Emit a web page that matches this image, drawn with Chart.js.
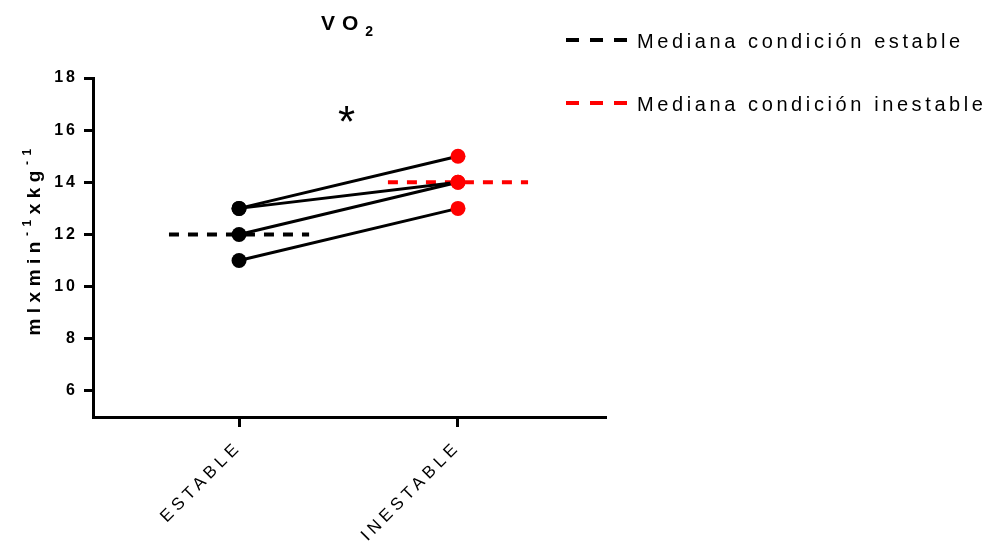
<!DOCTYPE html>
<html>
<head>
<meta charset="utf-8">
<script src="https://cdn.jsdelivr.net/npm/chart.js@4.4.1/dist/chart.umd.min.js"></script>
<style>
    html, body { margin: 0; padding: 0; background: #fff; }
</style>
</head>
<body>
<canvas id="vo2Chart" width="989" height="550"></canvas>
<script>
const categories = ['ESTABLE', 'INESTABLE'];
const estable = [13, 13, 12, 11];
const inestable = [15, 14, 14, 13];
const medianas = [12, 14];
const medianLabels = ['Mediana condición estable', 'Mediana condición inestable'];
const medianColors = ['#000000', '#ff0000'];
const yTicks = [6, 8, 10, 12, 14, 16, 18];
const sigMark = { text: '*', x: 1.5, y: 16.6 };

const FONT = "'Liberation Sans', Arial, sans-serif";
const medianHalf = 0.32;

// one line per subject, estable -> inestable
const subjectLines = estable.map((v, i) => ({
    label: 'sujeto ' + (i + 1),
    data: [{ x: 1, y: v }, { x: 2, y: inestable[i] }],
    showLine: true,
    borderColor: '#000',
    borderWidth: 3,
    pointRadius: 0,
    order: 2
}));

const medianLines = medianas.map((m, i) => ({
    label: medianLabels[i],
    data: [{ x: i + 1 - medianHalf, y: m }, { x: i + 1 + medianHalf, y: m }],
    showLine: true,
    borderColor: medianColors[i],
    borderWidth: 4,
    borderDash: [10, 9],
    pointRadius: 0,
    order: 3
}));

const points = {
    label: 'puntos',
    data: estable.map(v => ({ x: 1, y: v })).concat(inestable.map(v => ({ x: 2, y: v }))),
    pointBackgroundColor: estable.map(() => medianColors[0]).concat(inestable.map(() => medianColors[1])),
    pointBorderWidth: 0,
    pointRadius: 7.5,
    order: 1
};

// letter spacing for the tick labels (Prism style)
const spacingPlugin = {
    id: 'spacing',
    beforeDraw(chart) {
        Object.values(chart.scales).forEach(s => {
            if (s._spaced) return;
            const orig = s.drawLabels.bind(s);
            const ls = s.axis === 'x' ? '4.5px' : '3px';
            s.drawLabels = area => {
                chart.ctx.letterSpacing = ls;
                orig(area);
                chart.ctx.letterSpacing = '0px';
            };
            s._spaced = true;
        });
    }
};

function drawParts(ctx, parts, spacing) {
    // parts: [{text, font, dy}] drawn left to right from current origin
    let x = 0;
    ctx.letterSpacing = spacing;
    parts.forEach(p => {
        ctx.font = p.font;
        ctx.fillText(p.text, x, p.dy);
        x += ctx.measureText(p.text).width;
    });
    return x;
}

function partsWidth(ctx, parts, spacing) {
    let w = 0;
    ctx.letterSpacing = spacing;
    parts.forEach(p => {
        ctx.font = p.font;
        w += ctx.measureText(p.text).width;
    });
    return w;
}

const textPlugin = {
    id: 'texts',
    afterDraw(chart) {
        const ctx = chart.ctx;
        const area = chart.chartArea;
        ctx.save();
        ctx.fillStyle = '#000';
        ctx.textAlign = 'left';
        ctx.textBaseline = 'alphabetic';

        // title VO2
        const title = [
            { text: 'VO', font: 'bold 21px ' + FONT, dy: 0 },
            { text: '2', font: 'bold 14px ' + FONT, dy: 6 }
        ];
        const tw = partsWidth(ctx, title, '7px');
        ctx.save();
        ctx.translate((area.left + area.right) / 2 - tw / 2 + 1, 30);
        drawParts(ctx, title, '7px');
        ctx.restore();

        // y axis title with superscripts
        const ytitle = [
            { text: 'mlxmin', font: 'bold 19px ' + FONT, dy: 0 },
            { text: '-1', font: 'bold 12px ' + FONT, dy: -9 },
            { text: 'xkg', font: 'bold 19px ' + FONT, dy: 0 },
            { text: '-1', font: 'bold 12px ' + FONT, dy: -9 }
        ];
        const yw = partsWidth(ctx, ytitle, '5.5px');
        ctx.save();
        ctx.translate(40, (area.top + area.bottom) / 2 + yw / 2 - 8);
        ctx.rotate(-Math.PI / 2);
        drawParts(ctx, ytitle, '5.5px');
        ctx.restore();

        // significance mark
        const sx = chart.scales.x.getPixelForValue(sigMark.x);
        const sy = chart.scales.y.getPixelForValue(sigMark.y);
        ctx.font = '44px ' + FONT;
        ctx.letterSpacing = '0px';
        ctx.textAlign = 'center';
        ctx.fillText(sigMark.text, sx - 2, sy + 22);

        // legend
        const legendY = [40, 103];
        medianLines.forEach((ds, i) => {
            const y = legendY[i];
            ctx.beginPath();
            ctx.setLineDash([13, 11]);
            ctx.lineWidth = 4;
            ctx.strokeStyle = ds.borderColor;
            ctx.moveTo(566, y);
            ctx.lineTo(628, y);
            ctx.stroke();
            ctx.setLineDash([]);
            ctx.textAlign = 'left';
            ctx.font = '20px ' + FONT;
            ctx.letterSpacing = '3.6px';
            ctx.fillStyle = '#000';
            ctx.fillText(ds.label, 637, y + 8);
        });
        ctx.restore();
    }
};

const ctx = document.getElementById('vo2Chart').getContext('2d');
const chart = new Chart(ctx, {
    type: 'scatter',
    data: {
        datasets: [...medianLines, ...subjectLines, points]
    },
    options: {
        responsive: false,
        animation: false,
        layout: { padding: { top: 78, right: 383, left: 0, bottom: 0 } },
        plugins: {
            legend: { display: false },
            tooltip: { enabled: false }
        },
        scales: {
            x: {
                type: 'linear',
                min: 0.333,
                max: 2.676,
                afterBuildTicks: s => { s.ticks = categories.map((c, i) => ({ value: i + 1 })); },
                afterFit: s => { s.height = 133; },
                grid: { drawOnChartArea: false, drawTicks: true, tickLength: 10, tickWidth: 3, tickColor: '#000' },
                border: { color: '#000', width: 3 },
                ticks: {
                    autoSkip: false,
                    minRotation: 45,
                    maxRotation: 45,
                    padding: 10,
                    color: '#000',
                    font: { family: FONT, size: 17 },
                    callback: v => categories[v - 1]
                }
            },
            y: {
                min: 5,
                max: 18,
                afterBuildTicks: s => { s.ticks = yTicks.map(v => ({ value: v })); },
                afterFit: s => { s.width = 93; },
                grid: { drawOnChartArea: false, drawTicks: true, tickLength: 9, tickWidth: 3, tickColor: '#000' },
                border: { color: '#000', width: 3 },
                ticks: {
                    padding: 6,
                    color: '#000',
                    font: { family: FONT, size: 16, weight: 'bold' }
                }
            }
        }
    },
    plugins: [spacingPlugin, textPlugin]
});
</script>
</body>
</html>
